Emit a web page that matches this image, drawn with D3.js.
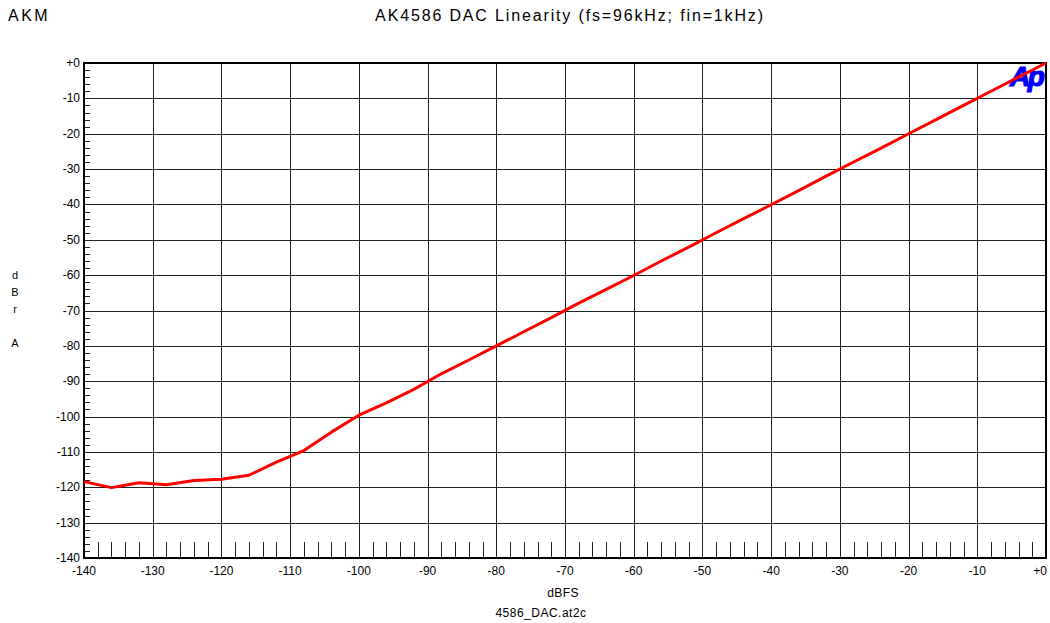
<html>
<head>
<script src="https://d3js.org/d3.v7.min.js"></script>
<style>
  body { margin: 0; background: #fff; }
  text { font-family: 'Liberation Sans', Arial, sans-serif; fill: #000; }
</style>
</head>
<body>
<div id="chart"></div>
<script>
// measured points (every 4 dBFS)
var dbfs = [-140,-136,-132,-128,-124,-120,-116,-112,-108,-104,-100,-96,-92,-88,-84,-80,-76,-72,-68,-64,-60,-56,-52,-48,-44,-40,-36,-32,-28,-24,-20,-16,-12,-8,-4,0];
var dbra = [-118.4,-120.1,-118.7,-119.3,-118.1,-117.7,-116.6,-112.9,-109.6,-104.4,-99.6,-96.1,-92.3,-87.9,-84.0,-80.0,-76.0,-72.0,-67.9,-64.0,-60.1,-56.0,-52.1,-48.0,-44.0,-40.1,-36.1,-32.0,-28.0,-24.1,-20.0,-16.0,-12.0,-8.0,-4.0,0.0];
var xTicks = [-140,-130,-120,-110,-100,-90,-80,-70,-60,-50,-40,-30,-20,-10,0];
var yTicks = [0,-10,-20,-30,-40,-50,-60,-70,-80,-90,-100,-110,-120,-130,-140];

var width = 1050, height = 623;
var pLeft = 84, pRight = 1046, pTop = 63, pBottom = 558;

var svg = d3.select("#chart").append("svg")
    .attr("width", width)
    .attr("height", height);

var xs = d3.scaleLinear().domain([-140, 0]).range([pLeft, pRight]);
var ys = d3.scaleLinear().domain([-140, 0]).range([pBottom, pTop]);

function lbl(v) { return v === 0 ? "+0" : String(v); }

// titles
svg.append("text").attr("x", 8).attr("y", 21).style("font-size", "16px")
    .style("letter-spacing", "2.5px").text("AKM");
svg.append("text").attr("x", 570).attr("y", 21).attr("text-anchor", "middle")
    .style("font-size", "16px").style("letter-spacing", "1.85px")
    .text("AK4586 DAC Linearity (fs=96kHz; fin=1kHz)");

// grid
svg.append("g").selectAll("line").data(xTicks).enter().append("line")
    .attr("x1", function(d){ return Math.round(xs(d)) + 0.5; })
    .attr("x2", function(d){ return Math.round(xs(d)) + 0.5; })
    .attr("y1", pTop).attr("y2", pBottom)
    .attr("stroke", "#222").attr("stroke-width", 1);
svg.append("g").selectAll("line").data(yTicks).enter().append("line")
    .attr("y1", function(d){ return Math.round(ys(d)) + 0.5; })
    .attr("y2", function(d){ return Math.round(ys(d)) + 0.5; })
    .attr("x1", pLeft).attr("x2", pRight)
    .attr("stroke", "#222").attr("stroke-width", 1);

// minor ticks
var minorX = d3.range(-138, 0, 2).filter(function(d){ return d % 10 !== 0; });
var minorY = d3.range(-138, 0, 2).filter(function(d){ return d % 10 !== 0; });
svg.append("g").selectAll("line").data(minorX).enter().append("line")
    .attr("x1", function(d){ return Math.round(xs(d)) + 0.5; })
    .attr("x2", function(d){ return Math.round(xs(d)) + 0.5; })
    .attr("y1", pBottom - 16).attr("y2", pBottom)
    .attr("stroke", "#222");
svg.append("g").selectAll("line").data(minorY).enter().append("line")
    .attr("y1", function(d){ return Math.round(ys(d)) + 0.5; })
    .attr("y2", function(d){ return Math.round(ys(d)) + 0.5; })
    .attr("x1", pLeft).attr("x2", pLeft + 6)
    .attr("stroke", "#222");

// frame
svg.append("rect").attr("x", pLeft).attr("y", pTop)
    .attr("width", pRight - pLeft).attr("height", pBottom - pTop)
    .attr("fill", "none").attr("stroke", "#000").attr("stroke-width", 2);

// tick labels
svg.append("g").selectAll("text").data(yTicks).enter().append("text")
    .attr("x", pLeft - 4).attr("y", function(d){ return ys(d) + 4; })
    .attr("text-anchor", "end").style("font-size", "12px").text(lbl);
svg.append("g").selectAll("text").data(xTicks).enter().append("text")
    .attr("x", function(d){ return xs(d) - (d === 0 ? 6 : 0); })
    .attr("y", pBottom + 17)
    .attr("text-anchor", "middle").style("font-size", "12px").text(lbl);

// axis labels
svg.append("text").attr("x", 563).attr("y", 597).attr("text-anchor", "middle")
    .style("font-size", "12px").style("letter-spacing", "0.4px").text("dBFS");
svg.append("text").attr("x", 541).attr("y", 617).attr("text-anchor", "middle")
    .style("font-size", "12px").style("letter-spacing", "0.5px").text("4586_DAC.at2c");
var yl = [["d", 279], ["B", 296], ["r", 313], ["A", 347]];
svg.append("g").selectAll("text").data(yl).enter().append("text")
    .attr("x", 15).attr("y", function(d){ return d[1]; })
    .attr("text-anchor", "middle").style("font-size", "11px")
    .text(function(d){ return d[0]; });

// Ap logo
svg.append("text").attr("x", 1010).attr("y", 86)
    .style("font-size", "28px").style("font-weight", "bold").style("font-style", "italic")
    .style("letter-spacing", "-2.5px")
    .style("fill", "#0000ff").style("stroke", "#0000ff").style("stroke-width", "1.2px")
    .text("Ap");

// data line
var line = d3.line()
    .x(function(d, i){ return xs(dbfs[i]); })
    .y(function(d){ return ys(d); });
svg.append("path").datum(dbra)
    .attr("d", line)
    .attr("fill", "none")
    .attr("stroke", "#ff0000")
    .attr("stroke-width", 3)
    .attr("stroke-linejoin", "round");
</script>
</body>
</html>
